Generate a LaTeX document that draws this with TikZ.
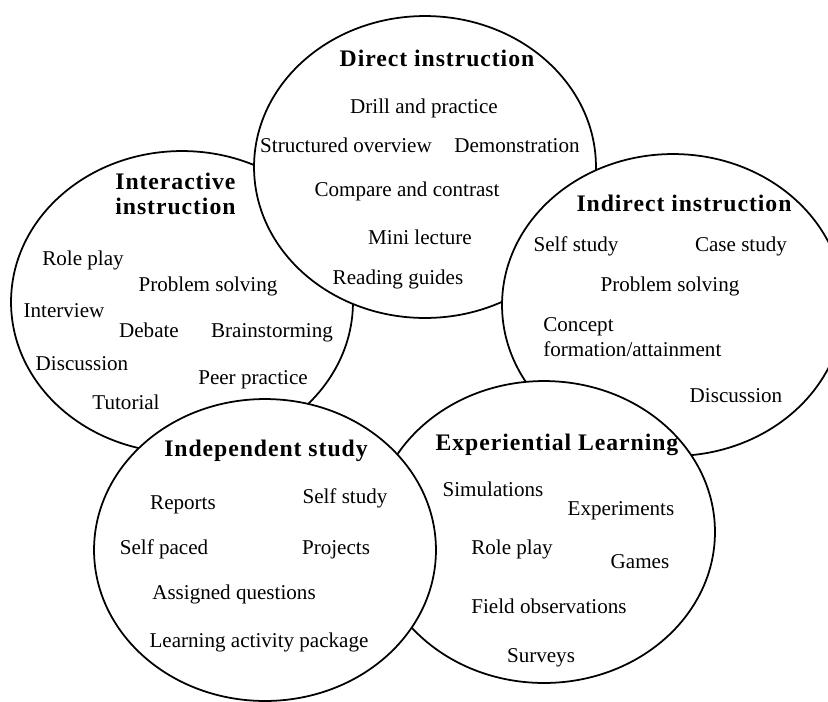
\documentclass[tikz,border=0pt]{standalone}
\usepackage{fontspec}
\setmainfont{Liberation Serif}
\newfontfamily\headfont[LetterSpace=4]{Liberation Serif}
\usepackage{tikz}
\usetikzlibrary{shapes.geometric}
\definecolor{Ink}{RGB}{0, 0, 0}

\begin{document}
\begin{tikzpicture}[x=0.02cm,y=-0.02cm,
        blob/.style={ellipse, draw=Ink, fill=white, line width=1pt, minimum width=6.84cm, minimum height=6.04cm, inner sep=0pt},
        head/.style={font=\headfont\bfseries\fontsize{13.5}{14.5}\selectfont, text=Ink, inner sep=0pt, anchor=base},
        act/.style={font=\fontsize{12}{14.2}\selectfont, text=Ink, inner sep=0pt, anchor=base}]
            \useasboundingbox (0,0) rectangle (828,701);
            \clip (0,0) rectangle (828,701);
            % interactive instruction
            \node[blob] (intr) at (182,302) {};
            \node[head, anchor=west, align=left] (intrHead) at (115,194) {Interactive\\instruction};
            \node[act] (intrRole) at (83,265) {Role play};
            \node[act] (intrProb) at (208,291) {Problem solving};
            \node[act] (intrInt) at (64,317) {Interview};
            \node[act] (intrDeb) at (149,337) {Debate};
            \node[act] (intrBrain) at (272,337) {Brainstorming};
            \node[act] (intrDisc) at (82,370) {Discussion};
            \node[act] (intrPeer) at (253,384) {Peer practice};
            \node[act] (intrTut) at (126,409) {Tutorial};
            % direct instruction
            \node[blob] (dir) at (425,167) {};
            \node[head] (dirHead) at (437,66) {Direct instruction};
            \node[act] (dirDrill) at (424,113) {Drill and practice};
            \node[act] (dirStruct) at (346,152) {Structured overview};
            \node[act] (dirDemo) at (517,152) {Demonstration};
            \node[act] (dirComp) at (407,196) {Compare and contrast};
            \node[act] (dirMini) at (420,244) {Mini lecture};
            \node[act] (dirRead) at (398,284) {Reading guides};
            % indirect instruction
            \node[blob] (indir) at (673,305) {};
            \node[head] (indirHead) at (684,211) {Indirect instruction};
            \node[act] (indirSelf) at (576,251) {Self study};
            \node[act] (indirCase) at (741,251) {Case study};
            \node[act] (indirProb) at (670,291) {Problem solving};
            \node[act, anchor=west, align=left] (indirConc) at (543,337) {Concept\\formation/attainment};
            \node[act] (indirDisc) at (736,402) {Discussion};
            % experiential learning
            \node[blob] (expl) at (544,532) {};
            \node[head] (explHead) at (557,450) {Experiential Learning};
            \node[act] (explSim) at (493,496) {Simulations};
            \node[act] (explExp) at (621,515) {Experiments};
            \node[act] (explRole) at (512,554) {Role play};
            \node[act] (explGame) at (640,568) {Games};
            \node[act] (explField) at (549,613) {Field observations};
            \node[act] (explSurv) at (541,662) {Surveys};
            % independent study
            \node[blob] (indep) at (265,550) {};
            \node[head] (indepHead) at (266,456) {Independent study};
            \node[act] (indepRep) at (183,509) {Reports};
            \node[act] (indepSelf) at (345,503) {Self study};
            \node[act] (indepPace) at (164,554) {Self paced};
            \node[act] (indepProj) at (336,554) {Projects};
            \node[act] (indepAssign) at (234,599) {Assigned questions};
            \node[act] (indepLap) at (259,647) {Learning activity package};
        \end{tikzpicture}
\end{document}
